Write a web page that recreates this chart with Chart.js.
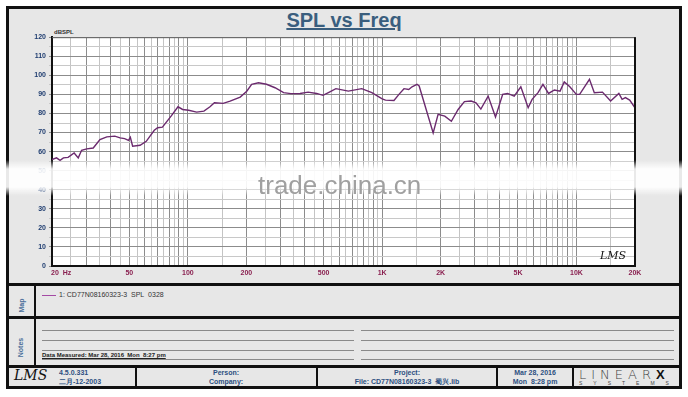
<!DOCTYPE html>
<html>
<head>
<meta charset="utf-8">
<script src="https://cdn.jsdelivr.net/npm/chart.js@4.4.1/dist/chart.umd.min.js"></script>
<style>
  body { margin: 0; width: 688px; height: 397px; background: #fff; position: relative; overflow: hidden; font-family: "Liberation Sans", Arial, sans-serif; }
  .abs { position: absolute; }
  #frame { left: 6px; top: 6px; width: 676px; height: 383px; box-sizing: border-box; border: 3px solid #111; background: #e7e7e7; }
  #title { left: 0; width: 688px; top: 9px; text-align: center; font-weight: bold; font-size: 20px; color: #3a5e7e; text-decoration: underline; }
  #chartBox { left: 20px; top: 30px; width: 630px; height: 252px; }
  .hsep { height: 3px; background: #111; left: 7px; width: 674px; }
  .vsep { width: 2px; background: #111; }
  .note-line { height: 1px; background: #8a8a8a; }
  .side { width: 27px; left: 7px; text-align: center; }
  .side span { display: inline-block; transform: rotate(-90deg); font-size: 7px; font-weight: bold; color: #4a6f9a; }
  .foot { font-size: 7px; font-weight: bold; color: #2c4f80; text-align: center; line-height: 9px; }
  .small { font-size: 7px; color: #333; }
</style>
</head>
<body>
<div id="frame" class="abs"></div>
<div id="title" class="abs">SPL vs Freq</div>
<div class="abs" style="left:54px;top:29px;font-size:6px;font-weight:bold;color:#333;">dBSPL</div>
<div id="chartBox" class="abs"><canvas id="splChart"></canvas></div>
<div class="abs" style="left:600px;top:249px;font-family:'DejaVu Serif',serif;font-style:italic;font-size:11px;color:#111;">LMS</div>

<!-- watermark band -->
<div class="abs" style="left:0;top:160px;width:688px;height:36px;background:linear-gradient(#ffffff00,#ffffffe8 25%,#ffffffe8 75%,#ffffff00);"></div>
<div class="abs" style="left:258px;top:170px;font-size:26px;color:#a0a0a0;">trade.china.cn</div>

<!-- map panel -->
<div class="hsep abs" style="top:283px;"></div>
<div class="vsep abs" style="left:34px;top:284px;height:82px;"></div>
<div class="side abs" style="top:294px;height:14px;"><span>Map</span></div>
<div class="abs" style="left:42px;top:295px;width:14px;height:1px;background:#a44aa4;"></div>
<div class="abs small" style="left:59px;top:291px;">1: CD77N08160323-3&nbsp; SPL&nbsp; 0328</div>

<!-- notes panel -->
<div class="hsep abs" style="top:316px;"></div>
<div class="side abs" style="top:336px;height:14px;"><span>Notes</span></div>
<div class="note-line abs" style="left:42px;width:312px;top:330px;"></div>
<div class="note-line abs" style="left:42px;width:312px;top:340px;"></div>
<div class="note-line abs" style="left:42px;width:312px;top:350px;"></div>
<div class="note-line abs" style="left:42px;width:312px;top:359px;"></div>
<div class="note-line abs" style="left:361px;width:313px;top:330px;"></div>
<div class="note-line abs" style="left:361px;width:313px;top:340px;"></div>
<div class="note-line abs" style="left:361px;width:313px;top:350px;"></div>
<div class="note-line abs" style="left:361px;width:313px;top:359px;"></div>
<div class="abs" style="left:42px;top:352px;font-size:6px;font-weight:bold;color:#222;text-decoration:underline;">Data Measured: Mar 28, 2016&nbsp; Mon&nbsp; 8:27 pm</div>

<!-- footer -->
<div class="hsep abs" style="top:365px;"></div>
<div class="vsep abs" style="left:135px;top:366px;height:21px;"></div>
<div class="vsep abs" style="left:316px;top:366px;height:21px;"></div>
<div class="vsep abs" style="left:496px;top:366px;height:21px;"></div>
<div class="vsep abs" style="left:572px;top:366px;height:21px;"></div>
<div class="abs" style="left:14px;top:367px;font-family:'DejaVu Serif',serif;font-style:italic;font-size:14px;color:#111;">LMS</div>
<div class="abs foot" style="left:59px;top:368px;text-align:left;">4.5.0.331<br>二月-12-2003</div>
<div class="abs foot" style="left:136px;width:180px;top:368px;">Person:<br>Company:</div>
<div class="abs foot" style="left:318px;width:178px;top:368px;">Project:<br>File: CD77N08160323-3&nbsp; 蜀兴.lib</div>
<div class="abs foot" style="left:498px;width:74px;top:368px;">Mar 28, 2016<br>Mon&nbsp; 8:28 pm</div>
<div class="abs" style="left:579px;top:367px;font-family:'DejaVu Sans',sans-serif;font-weight:200;font-size:13px;letter-spacing:5px;color:#444;">LINEAR<b style="font-family:'Liberation Sans',sans-serif;font-weight:bold;color:#111;letter-spacing:0;">X</b></div>
<div class="abs" style="left:579px;top:380px;font-size:5px;letter-spacing:11px;color:#444;">SYSTEMS</div>

<script>
// measured SPL curve
const freqs = [20, 21.1, 22, 22.9, 24.2, 26, 27.3, 28.4, 30.2, 32.6, 35.3, 38.3, 42.1, 44.8, 47.3, 49.5, 50.6, 52, 56.8, 61.1,
    67.2, 69.9, 74, 82, 89, 94, 101, 111, 121, 130, 137, 152, 165, 186, 201, 213, 231, 254, 281, 311,
    339, 378, 416, 460, 496, 535, 578, 670, 785, 885, 1000, 1040, 1150, 1220, 1295, 1370, 1425, 1510, 1550, 1830,
    1940, 2100, 2270, 2460, 2650, 2870, 3040, 3220, 3510, 3830, 4170, 4420, 4780, 5170, 5640, 5910, 6340, 6720, 7180, 7700,
    8230, 8650, 9240, 9980, 10380, 11660, 12350, 13600, 14980, 16520, 17170, 17850, 18780, 20000];
const splValues = [55.8, 56.7, 55.4, 56.7, 57, 59.3, 56.7, 60.7, 61.4, 61.9, 66.3, 67.7, 68.1, 67.2, 66.8, 65.9, 67.5, 62.8, 63.3, 65.4,
    71.2, 72.5, 72.8, 78.6, 83.5, 82.1, 81.7, 80.7, 81.2, 83.5, 85.6, 85.3, 86.5, 88.6, 91.7, 95.3, 96.1, 95.3, 93.5, 90.9,
    90.4, 90.5, 91.2, 90.5, 89.5, 91.2, 93, 91.7, 93, 90.9, 87.7, 87, 86.8, 90, 93, 92.6, 94, 95.3, 94.4, 69.8,
    79.5, 78.6, 75.9, 82.1, 86.2, 86.5, 85.6, 82.3, 89.1, 78.1, 90, 90.5, 89.1, 94, 83, 87.4, 90.9, 95.3, 90.5, 92.3,
    91.7, 96.5, 94, 90, 90, 97.9, 90.9, 91.2, 86.5, 90.5, 87.4, 88.3, 87, 83];

// axis ticks and labels
const xLabelValues = [20, 50, 100, 200, 500, 1000, 2000, 5000, 10000, 20000];
const xLabelText = ['20  Hz', '50', '100', '200', '500', '1K', '2K', '5K', '10K', '20K'];
const gridMultipliers = [1, 1.5, 2, 2.5, 3, 3.5, 4, 4.5, 5, 5.5, 6, 6.5, 7, 7.5, 8, 8.5, 9, 9.5];
const gridDecades = [10, 100, 1000, 10000];
const yMin = 0, yMax = 120, yStep = 5;

const gridValues = [];
gridDecades.forEach(d => {
    gridMultipliers.forEach(m => {
        const v = Math.round(m * d * 100) / 100;
        if (v >= 20 && v <= 20000) gridValues.push(v);
    });
});
gridValues.push(20000);

function isMajorFreq(v) {
    const m = v / Math.pow(10, Math.floor(Math.log10(v) + 1e-9));
    return Math.abs(m - Math.round(m)) < 1e-6;
}

// draws white plot bg, x labels and the top/right frame of the plot
const plotDecor = {
    id: 'plotDecor',
    beforeDraw(chart) {
        const a = chart.chartArea, c = chart.ctx;
        c.save();
        c.fillStyle = '#ffffff';
        c.fillRect(a.left, a.top, a.right - a.left, a.bottom - a.top);
        c.restore();
    },
    afterDraw(chart) {
        const a = chart.chartArea, c = chart.ctx, xs = chart.scales.x;
        c.save();
        c.font = 'bold 7px "Liberation Sans", Arial, sans-serif';
        c.fillStyle = '#8a2050';
        c.textBaseline = 'top';
        xLabelValues.forEach((v, i) => {
            const px = xs.getPixelForValue(v);
            c.textAlign = i === 0 ? 'left' : 'center';
            c.fillText(xLabelText[i], i === 0 ? px - 1 : px, a.bottom + 4);
        });
        c.strokeStyle = '#666';
        c.lineWidth = 1;
        c.beginPath();
        c.moveTo(a.left, a.top + 0.5);
        c.lineTo(a.right, a.top + 0.5);
        c.stroke();
        c.strokeStyle = '#111';
        c.lineWidth = 2;
        c.beginPath();
        c.moveTo(a.right, a.top);
        c.lineTo(a.right, a.bottom);
        c.stroke();
        c.restore();
    }
};

new Chart(document.getElementById('splChart'), {
    type: 'line',
    data: {
        datasets: [{
            label: '1: CD77N08160323-3  SPL  0328',
            data: freqs.map((f, i) => ({ x: f, y: splValues[i] })),
            borderColor: '#6b2a6e',
            borderWidth: 1.4,
            pointRadius: 0,
            tension: 0,
            fill: false
        }]
    },
    options: {
        responsive: true,
        maintainAspectRatio: false,
        animation: false,
        layout: { padding: { top: 7, right: 15, left: 0, bottom: 0 } },
        plugins: {
            legend: { display: false },
            tooltip: { enabled: false }
        },
        scales: {
            x: {
                type: 'logarithmic',
                min: 20,
                max: 20000,
                afterBuildTicks: scale => { scale.ticks = gridValues.map(v => ({ value: v })); },
                afterFit: scale => { scale.height = 16; },
                ticks: { display: false, autoSkip: false },
                grid: {
                    drawTicks: false,
                    color: ctx => isMajorFreq(ctx.tick.value) ? '#8c8c8c' : '#c4c4c4',
                    lineWidth: 1
                },
                border: { color: '#111', width: 2 }
            },
            y: {
                min: yMin,
                max: yMax,
                afterFit: scale => { scale.width = 32; },
                ticks: {
                    stepSize: yStep,
                    autoSkip: false,
                    padding: 3,
                    color: '#1f3d70',
                    font: { family: '"Liberation Sans", Arial, sans-serif', size: 7, weight: 'bold' },
                    callback: v => v % 10 === 0 ? v : ''
                },
                grid: {
                    drawTicks: true,
                    tickLength: 3,
                    color: ctx => ctx.tick.value % 10 === 0 ? '#8c8c8c' : '#c8c8c8'
                },
                border: { color: '#111', width: 2 }
            }
        }
    },
    plugins: [plotDecor]
});
</script>
</body>
</html>
